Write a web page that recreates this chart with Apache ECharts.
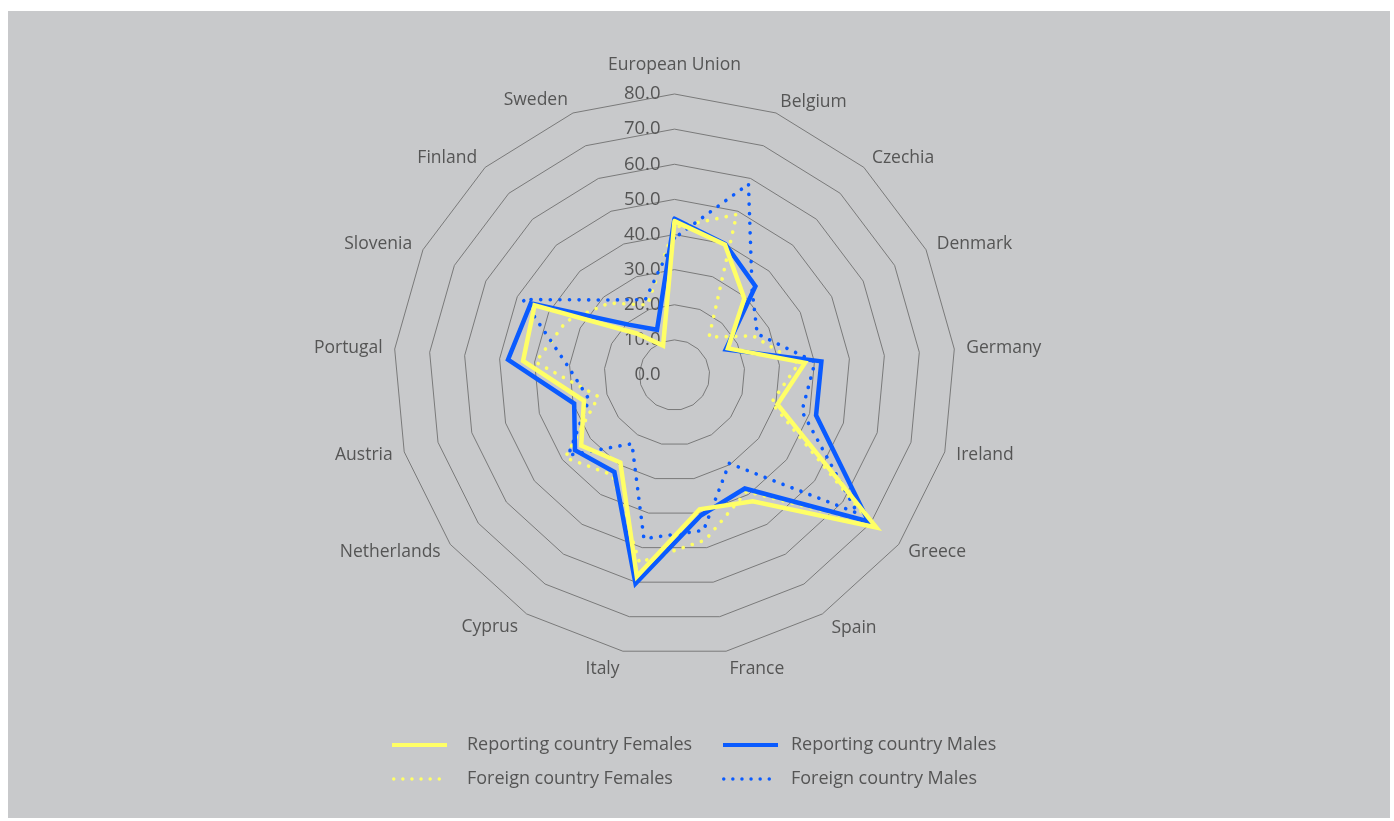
<!DOCTYPE html>
<html><head><meta charset="utf-8">
<script src="https://cdn.jsdelivr.net/npm/echarts@6/dist/echarts.min.js"></script>
<style>
html,body{margin:0;padding:0;background:#ffffff;width:1394px;height:821px;overflow:hidden}
#chart{position:absolute;left:8px;top:11px;width:1382px;height:807px;background:#c8c9cb}
</style></head><body><div id="chart"></div>
<script>
const categories = ['European Union','Belgium','Czechia','Denmark','Germany','Ireland','Greece','Spain','France','Italy','Cyprus','Netherlands','Austria','Portugal','Slovenia','Finland','Sweden'];
const reportingFemales = [43.8,39.8,29.5,17.0,37.3,30.5,72.0,42.3,38.9,58.4,29.3,33.3,26.8,43.3,44.5,16.0,9.0];
const reportingMales   = [44.5,40.0,34.2,16.3,42.0,41.9,69.2,38.0,40.7,60.4,32.5,35.5,29.7,47.6,45.7,19.4,13.8];
const foreignFemales   = [42.0,49.0,14.6,25.0,35.5,28.7,70.0,39.0,47.8,54.3,33.5,39.0,22.5,39.7,34.4,27.7,21.4];
const foreignMales     = [39.0,58.3,32.8,26.3,40.2,37.7,65.3,29.6,45.0,47.4,23.0,37.9,25.3,30.7,48.2,28.9,23.0];
const axisMin = 0, axisMax = 80, axisSplits = 8;
const seriesNames = ['Reporting country Females','Reporting country Males','Foreign country Females','Foreign country Males'];

const YELLOW = '#ffff66', BLUE = '#0a5bff', TXT = '#555555';
const FONT = '"Open Sans", "Noto Sans", sans-serif';

// ECharts places indicators counter-clockwise; reorder so that the chart reads clockwise
const order = [0];
for (let i = categories.length - 1; i >= 1; i--) order.push(i);
const pick = arr => order.map(i => arr[i]);

// per-category distance between outer ring and category name (layout only)
const nameGapFor = {'European Union': 20, 'France': 18, 'Italy': 18, 'Spain': 17, 'Cyprus': 16, 'Sweden': 14};

function dotsPath(n, gap, d) {
  let p = '';
  const r = d / 2;
  for (let k = 0; k < n; k++) {
    const cx = r + k * gap;
    p += 'M' + (cx - r) + ',' + r + ' A' + r + ',' + r + ' 0 1,1 ' + (cx + r) + ',' + r + ' A' + r + ',' + r + ' 0 1,1 ' + (cx - r) + ',' + r + ' Z ';
  }
  return 'path://' + p;
}

const styles = {
  'Reporting country Females': {color: YELLOW, type: 'solid', width: 4.5, z: 4},
  'Reporting country Males':   {color: BLUE, type: 'solid', width: 4.5, z: 3},
  'Foreign country Females':   {color: YELLOW, type: [0.1, 9.5], width: 3.6, z: 1},
  'Foreign country Males':     {color: BLUE, type: [0.1, 9.5], width: 3.6, z: 2}
};
const values = {
  'Reporting country Females': reportingFemales,
  'Reporting country Males': reportingMales,
  'Foreign country Females': foreignFemales,
  'Foreign country Males': foreignMales
};

const drawOrder = ['Foreign country Females','Foreign country Males','Reporting country Males','Reporting country Females'];
const series = drawOrder.map(name => {
  const s = styles[name];
  return {
    type: 'radar',
    name: name,
    symbol: 'none',
    z: s.z,
    itemStyle: {color: s.color},
    lineStyle: {color: s.color, width: s.width, type: s.type, cap: 'round', join: 'miter'},
    data: [{name: name, value: pick(values[name])}]
  };
});

const legendPos = [
  {name: seriesNames[0], left: 379, top: 720, pad: 15},
  {name: seriesNames[1], left: 710, top: 720, pad: 8},
  {name: seriesNames[2], left: 379, top: 754, pad: 21},
  {name: seriesNames[3], left: 709, top: 754, pad: 15}
];
const legend = legendPos.map(lp => {
  const dotted = styles[lp.name].type !== 'solid';
  return {
    left: lp.left, top: lp.top, orient: 'horizontal',
    data: [{name: lp.name, icon: dotted ? dotsPath(6, 9.1, 3.5) : 'rect'}],
    itemWidth: dotted ? 49 : 55,
    itemHeight: dotted ? 3.5 : 4,
    itemGap: 10,
    selectedMode: false,
    textStyle: {color: TXT, fontSize: 18, fontFamily: FONT, padding: [0, 0, 0, lp.pad]}
  };
});

const chart = echarts.init(document.getElementById('chart'), null, {renderer: 'canvas'});
chart.setOption({
  animation: false,
  backgroundColor: '#c8c9cb',
  legend: legend,
  radar: {
    center: [666.5, 364],
    radius: 281,
    startAngle: 90,
    shape: 'polygon',
    splitNumber: axisSplits,
    axisNameGap: 12,
    nameGap: 12,
    axisName: {color: TXT, fontSize: 17.5, fontFamily: FONT},
    axisLine: {show: false},
    axisTick: {show: false},
    splitArea: {show: false},
    splitLine: {lineStyle: {color: '#707070', width: 0.9}},
    axisLabel: {show: false, color: TXT, fontSize: 18.5, fontFamily: FONT, margin: 14,
      formatter: v => Number(v).toFixed(1)},
    indicator: order.map((i, k) => ({
      name: categories[i], min: axisMin, max: axisMax,
      nameGap: nameGapFor[categories[i]] != null ? nameGapFor[categories[i]] : 12,
      axisLabel: {show: k === 0}
    }))
  },
  series: series
});
</script></body></html>
